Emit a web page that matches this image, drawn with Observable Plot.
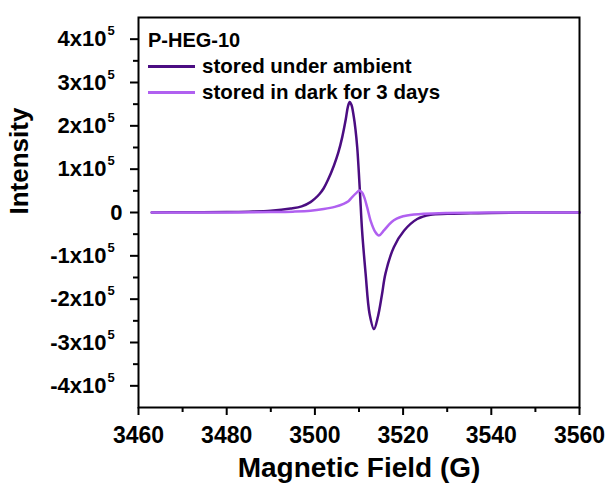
<!DOCTYPE html>
<html>
<head>
<meta charset="utf-8">
<script src="https://cdn.jsdelivr.net/npm/d3@7"></script>
<script src="https://cdn.jsdelivr.net/npm/@observablehq/plot@0.6"></script>
<style>
  body { margin: 0; background: #fff; }
  #wrap { position: relative; width: 610px; height: 487px; font-family: "Liberation Sans", Arial, sans-serif; font-weight: bold; }
  #legend { position: absolute; left: 148px; top: 27px; color: #000; }
  #legend .title { font-size: 20px; line-height: 26px; }
  #legend .row { font-size: 20.5px; line-height: 26px; display: flex; align-items: center; }
  #legend .sw { display: inline-block; width: 47px; height: 3px; margin-right: 7px; }
</style>
</head>
<body>
<div id="wrap"><div id="legend"></div></div>
<script>
const title = "P-HEG-10";
const seriesNames = ["stored under ambient", "stored in dark for 3 days"];
const seriesColors = ["#4b0d82", "#b060f0"];

// stored under ambient
const ambientField = [3463, 3470, 3480, 3485, 3490, 3494.5, 3497, 3499, 3500, 3501, 3502, 3503, 3504.3, 3505.3, 3506.2, 3507, 3507.5, 3507.9, 3508.3, 3508.8, 3509.2, 3509.6, 3510.2, 3510.7, 3511.5, 3512.4, 3513.4, 3514.3, 3515.2, 3516, 3517.9, 3520.2, 3523.2, 3526.2, 3530, 3535.3, 3540, 3550, 3560];
const ambientIntensity = [0, 0.005e5, 0.01e5, 0.02e5, 0.04e5, 0.09e5, 0.14e5, 0.24e5, 0.32e5, 0.42e5, 0.56e5, 0.76e5, 1.08e5, 1.38e5, 1.74e5, 2.15e5, 2.45e5, 2.55e5, 2.48e5, 2.22e5, 1.92e5, 1.5e5, 0.5e5, -0.42e5, -1.41e5, -2.34e5, -2.69e5, -2.4e5, -1.9e5, -1.41e5, -0.8e5, -0.42e5, -0.15e5, -0.05e5, -0.03e5, -0.02e5, -0.01e5, 0, 0];

// stored in dark for 3 days
const darkField = [3463, 3480, 3490, 3495, 3499, 3502, 3504.5, 3506.5, 3507.6, 3508.4, 3509.3, 3510.1, 3510.7, 3511.2, 3511.9, 3512.6, 3513.7, 3514.5, 3515.6, 3516.7, 3517.9, 3519.3, 3520.9, 3524.7, 3530, 3540, 3560];
const darkIntensity = [0, 0, 0.01e5, 0.02e5, 0.04e5, 0.08e5, 0.13e5, 0.2e5, 0.26e5, 0.35e5, 0.44e5, 0.51e5, 0.46e5, 0.35e5, 0.1e5, -0.18e5, -0.45e5, -0.53e5, -0.42e5, -0.29e5, -0.18e5, -0.11e5, -0.07e5, -0.03e5, -0.01e5, 0, 0];

const xTicks = [3460, 3480, 3500, 3520, 3540, 3560];
const xMinorTicks = [3470, 3490, 3510, 3530, 3550];
const yTicks = [-4e5, -3e5, -2e5, -1e5, 0, 1e5, 2e5, 3e5, 4e5];
const yMinorTicks = [-3.5e5, -2.5e5, -1.5e5, -0.5e5, 0.5e5, 1.5e5, 2.5e5, 3.5e5];
const xLabel = "Magnetic Field (G)";
const yLabel = "Intensity";

const ambient = ambientField.map((x, i) => ({x, y: ambientIntensity[i], s: seriesNames[0]}));
const dark = darkField.map((x, i) => ({x, y: darkIntensity[i], s: seriesNames[1]}));
const font = "Liberation Sans, Arial, sans-serif";

const mantissa = v => v === 0 ? "" : `${v / 1e5}x10`;

const chart = Plot.plot({
  width: 610,
  height: 487,
  marginLeft: 138,
  marginRight: 31,
  marginTop: 17,
  marginBottom: 80,
  style: {fontFamily: font, fontWeight: "bold", background: "white", color: "black"},
  x: {domain: [3460, 3560]},
  y: {domain: [-4.5e5, 4.5e5]},
  marks: [
    Plot.axisX({ticks: xTicks, tickSize: 8, tickPadding: 11, tickFormat: d => String(d), fontSize: 23, strokeWidth: 2, label: null, fontWeight: "bold"}),
    Plot.axisX({ticks: xMinorTicks, tickSize: 5, tickFormat: () => "", strokeWidth: 2, label: null}),
    Plot.axisY({ticks: yTicks, tickSize: 8, tickFormat: () => "", strokeWidth: 2, label: null}),
    Plot.axisY({ticks: yMinorTicks, tickSize: 5, tickFormat: () => "", strokeWidth: 2, label: null}),
    Plot.text(yTicks.filter(v => v !== 0), {y: d => d, frameAnchor: "left", text: mantissa, textAnchor: "end", dx: -32, fontSize: 22, fontWeight: "bold"}),
    Plot.text(yTicks.filter(v => v !== 0), {y: d => d, frameAnchor: "left", text: () => "5", textAnchor: "start", dx: -31, dy: -8, fontSize: 13, fontWeight: "bold"}),
    Plot.text([0], {y: d => d, frameAnchor: "left", text: () => "0", textAnchor: "end", dx: -16, fontSize: 22, fontWeight: "bold"}),
    Plot.text([yLabel], {frameAnchor: "left", text: d => d, rotate: -90, dx: -119, dy: 2, fontSize: 26, fontWeight: "bold"}),
    Plot.text([xLabel], {frameAnchor: "bottom", text: d => d, dy: 69, fontSize: 28, fontWeight: "bold"}),
    Plot.line(ambient, {x: "x", y: "y", stroke: seriesColors[0], strokeWidth: 2.5, curve: "catmull-rom"}),
    Plot.line(dark, {x: "x", y: "y", stroke: seriesColors[1], strokeWidth: 2.5, curve: "catmull-rom"}),
    Plot.frame({stroke: "black", strokeWidth: 2})
  ]
});

const wrap = document.getElementById("wrap");
wrap.insertBefore(chart, wrap.firstChild);

const legend = document.getElementById("legend");
const t = document.createElement("div");
t.className = "title";
t.textContent = title;
legend.appendChild(t);
seriesNames.forEach((name, i) => {
  const row = document.createElement("div");
  row.className = "row";
  const sw = document.createElement("span");
  sw.className = "sw";
  sw.style.background = seriesColors[i];
  const lab = document.createElement("span");
  lab.textContent = name;
  row.appendChild(sw);
  row.appendChild(lab);
  legend.appendChild(row);
});
</script>
</body>
</html>
